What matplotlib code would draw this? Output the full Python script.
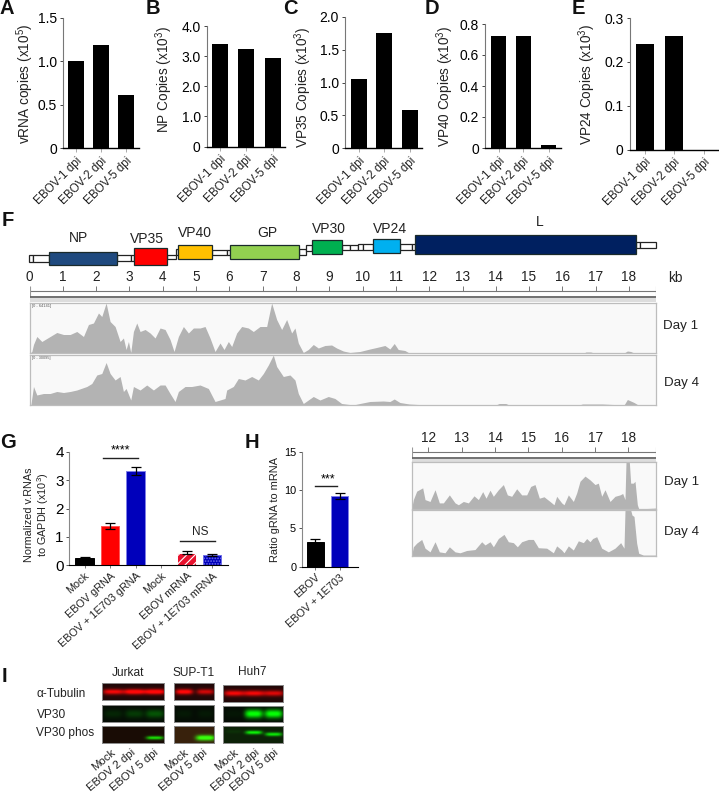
"""
Ebola panel figure: copy numbers (A-E), coverage tracks (F), gRNA bars (G, H), blots (I).
Layout is placed in pixels so panels line up with the 719x792 page.
"""
import numpy as np
import matplotlib
matplotlib.use("Agg")
import matplotlib.pyplot as plt
from matplotlib.patches import Rectangle

plt.rcParams["font.family"] = ["Liberation Sans", "DejaVu Sans"]
plt.rcParams["mathtext.fontset"] = "custom"
plt.rcParams["mathtext.rm"] = "Liberation Sans"
plt.rcParams["mathtext.default"] = "rm"
plt.rcParams["hatch.linewidth"] = 0.8

W, H = 719, 792

# panels A-E
DPI_LABELS = ["EBOV-1 dpi", "EBOV-2 dpi", "EBOV-5 dpi"]
VRNA = [1.0, 1.18, 0.61]
NP_COPIES = [3.4, 3.22, 2.93]
VP35_COPIES = [1.05, 1.75, 0.58]
VP40_COPIES = [0.72, 0.725, 0.02]
VP24_COPIES = [0.24, 0.26, 0.0]

# panel F gene map, kb
GENE_NAMES = ["NP", "VP35", "VP40", "GP", "VP30", "VP24", "L"]
GENE_START = [0.58, 3.15, 4.47, 6.02, 8.49, 10.31, 11.58]
GENE_END = [2.64, 4.14, 5.47, 8.10, 9.38, 11.12, 18.22]
GENE_COLS = ["#1f4a7f", "#ff0000", "#ffc000", "#92d050", "#00b050", "#00b0f0", "#002060"]
UTR_START = [-0.03, 0.12, 2.64, 3.04, 4.14, 4.39, 5.47, 5.92, 8.10, 8.29, 9.38, 9.62, 9.85, 10.02, 11.12, 11.47, 18.22, 18.34]
UTR_END = [0.12, 0.58, 3.04, 3.15, 4.39, 4.47, 5.92, 6.02, 8.29, 8.49, 9.62, 9.85, 10.02, 10.31, 11.47, 11.58, 18.34, 18.82]
KB_TICKS = list(range(1, 19))

# coverage, percent of track height
DAY1_KB = [0.02, 0.07, 0.12, 0.22, 0.37, 0.62, 0.82, 1.02, 1.22, 1.42, 1.62, 1.77, 1.92, 2.07, 2.17, 2.30, 2.42, 2.57,
           2.72, 2.82, 2.90, 2.97, 3.04, 3.12, 3.22, 3.32, 3.47, 3.62, 3.77, 3.92, 4.07, 4.22, 4.34, 4.47, 4.62, 4.77,
           4.92, 5.12, 5.27, 5.42, 5.57, 5.72, 5.84, 5.97, 6.07, 6.22, 6.37, 6.57, 6.72, 6.92, 7.12, 7.27, 7.42, 7.57,
           7.72, 7.87, 7.97, 8.07, 8.22, 8.37, 8.52, 8.67, 8.87, 9.07, 9.22, 9.42, 9.62, 9.92, 10.22, 10.42, 10.67,
           10.82, 10.95, 11.07, 11.27, 11.40, 16.65, 16.70, 16.85, 16.95, 17.85, 17.95, 18.05, 18.15, 18.80]
DAY1_COV = [0, 3, 17, 33, 23, 33, 41, 37, 37, 43, 33, 57, 60, 80, 73, 100, 63, 53,
            23, 30, 7, 23, 1, 43, 60, 43, 47, 40, 30, 50, 47, 27, 3, 33, 53, 40,
            50, 50, 53, 30, 3, 20, 7, 23, 13, 40, 53, 50, 43, 53, 53, 100, 67, 47,
            67, 40, 50, 20, 1, 7, 17, 10, 15, 16, 10, 4, 1, 3, 8, 11, 15,
            8, 19, 7, 5, 0, 0, 2, 2, 0, 0, 4, 3, 0, 0]
DAY4_KB = [0.04, 0.12, 0.22, 0.42, 0.62, 0.82, 1.02, 1.22, 1.42, 1.72, 1.87, 2.02, 2.17, 2.30, 2.42, 2.57, 2.72, 2.82,
           2.90, 3.04, 3.12, 3.32, 3.52, 3.72, 3.92, 4.07, 4.22, 4.37, 4.47, 4.67, 4.87, 5.12, 5.37, 5.57, 5.72, 5.87,
           5.92, 6.12, 6.27, 6.47, 6.67, 6.87, 7.02, 7.17, 7.32, 7.42, 7.62, 7.82, 7.97, 8.07, 8.22, 8.37, 8.52, 8.72,
           8.97, 9.17, 9.37, 9.72, 9.92, 10.22, 10.62, 10.82, 10.95, 11.12, 11.40, 11.67, 11.90, 14.00, 14.10, 14.30,
           14.40, 16.50, 16.60, 17.20, 17.85, 17.95, 18.15, 18.25, 18.80]
DAY4_COV = [0, 37, 20, 23, 23, 27, 25, 27, 30, 37, 43, 60, 63, 85, 63, 50, 57, 27,
            33, 10, 37, 30, 40, 30, 40, 40, 23, 7, 27, 37, 37, 40, 33, 7, 10, 13,
            30, 37, 53, 50, 57, 50, 63, 80, 100, 77, 57, 60, 50, 23, 3, 10, 17, 10,
            17, 13, 3, 0, 3, 7, 8, 7, 12, 5, 2, 1, 0, 0, 3, 3,
            0, 0, 2, 2, 0, 11, 5, 1, 0]

# zoomed 3' end tracks
ZOOM1_KB = [11.5, 11.55, 11.65, 11.83, 11.9, 12.05, 12.2, 12.33, 12.45, 12.63, 12.8, 12.9, 13.05, 13.2, 13.37, 13.5,
            13.63, 13.73, 13.85, 13.95, 14.1, 14.25, 14.37, 14.5, 14.65, 14.8, 14.95, 15.07, 15.2, 15.33, 15.47, 15.65,
            15.77, 15.85, 16.0, 16.07, 16.2, 16.35, 16.45, 16.55, 16.7, 16.85, 17.0, 17.1, 17.2, 17.3, 17.45, 17.6,
            17.75, 17.83, 17.9, 17.93, 18.03, 18.07, 18.15, 18.2, 18.27, 18.31, 18.55, 18.83]
ZOOM1_COV = [2, 20, 38, 45, 20, 16, 41, 13, 13, 30, 13, 9, 16, 13, 28, 20,
             37, 23, 40, 27, 41, 52, 30, 27, 43, 30, 30, 48, 52, 23, 26, 16,
             9, 27, 13, 9, 30, 16, 34, 59, 70, 62, 52, 55, 27, 41, 16, 27,
             30, 33, 20, 100, 100, 55, 55, 59, 9, 1, 1, 2]
ZOOM4_KB = [11.5, 11.55, 11.65, 11.8, 11.9, 12.05, 12.2, 12.33, 12.5, 12.63, 12.8, 12.95, 13.15, 13.4, 13.6, 13.7,
            13.85, 13.95, 14.1, 14.27, 14.4, 14.55, 14.67, 14.8, 15.0, 15.15, 15.3, 15.55, 15.75, 15.85, 16.0, 16.07,
            16.2, 16.35, 16.5, 16.65, 16.75, 16.85, 16.93, 17.05, 17.2, 17.4, 17.6, 17.77, 17.87, 17.9, 18.07, 18.11,
            18.17, 18.25, 18.31, 18.45, 18.83]
ZOOM4_COV = [2, 20, 28, 36, 17, 9, 31, 9, 7, 20, 9, 7, 12, 14, 31, 24,
             31, 20, 38, 47, 31, 29, 20, 31, 36, 36, 18, 17, 7, 22, 13, 7,
             22, 13, 33, 29, 38, 31, 38, 42, 17, 9, 17, 29, 17, 100, 100, 89,
             86, 28, 6, 2, 2]

# panel G, H
G_LABELS = ["Mock", "EBOV gRNA", "EBOV + 1E703 gRNA", "Mock", "EBOV mRNA", "EBOV + 1E703 mRNA"]
G_VALUES = [0.25, 1.38, 3.32, 0.0, 0.45, 0.37]
G_ERR = [0.03, 0.10, 0.13, 0.0, 0.05, 0.03]
H_LABELS = ["EBOV", "EBOV + 1E703"]
H_VALUES = [3.2, 9.2]
H_ERR = [0.4, 0.4]

# panel I band strength per lane
BLOT_CELLS = ["Jurkat", "SUP-T1", "Huh7"]
BLOT_ROWS = ["α-Tubulin", "VP30", "VP30 phos"]
LANES = [["Mock", "EBOV 2 dpi", "EBOV 5 dpi"], ["Mock", "EBOV 5 dpi"], ["Mock", "EBOV 2 dpi", "EBOV 5 dpi"]]
TUBULIN = [[0.85, 1.0, 1.0], [0.95, 0.7], [0.85, 0.85, 0.75]]
VP30 = [[0.10, 0.18, 0.28], [0.05, 0.05], [0.04, 1.0, 1.0]]
VP30_PHOS = [[0.0, 0.0, 0.85], [0.0, 1.0], [0.06, 0.85, 0.8]]


def px_axes(fig, x0, x1, ytop, ybot, **kw):
    return fig.add_axes([x0 / W, 1 - ybot / H, (x1 - x0) / W, (ybot - ytop) / H], **kw)


def copies_panel(fig, box, bars, values, ymax, yticks, yticklabels, ylabel, ylabel_x, ylabel_y):
    x0, x1, ytop, ybot = box
    ax = px_axes(fig, x0, x1, ytop, ybot)
    # bars given in pixels along the baseline
    centers = [(b[0] + b[1]) / 2 - x0 for b in bars]
    width = bars[0][1] - bars[0][0]
    ax.bar(centers, values, width=width, color="black")
    ax.set_xlim(0, x1 - x0)
    ax.set_ylim(0, ymax)
    ax.set_yticks(yticks)
    ax.set_yticklabels(yticklabels, fontsize=10)
    ax.set_xticks(centers)
    ax.set_xticklabels(DPI_LABELS, rotation=45, ha="right", rotation_mode="anchor", fontsize=8.5, color="#222222")
    ax.tick_params(axis="y", length=2.5, width=0.7, color="#444444", pad=2)
    ax.tick_params(axis="x", length=3, width=0.7, color="#aaaaaa", pad=2)
    ax.spines[["top", "right"]].set_visible(False)
    ax.spines["left"].set_color("#777777")
    ax.spines["bottom"].set_linewidth(1.0)
    ax.patch.set_alpha(0)
    ov.text(ylabel_x, ylabel_y, ylabel, rotation=90, ha="center", va="center", fontsize=9.8, color="#222222")
    return ax


def track(fig, box, xlim, kb, cov, tag=None):
    x0, x1, ytop, ybot = box
    ax = px_axes(fig, x0, x1, ytop, ybot, facecolor="#f9f9f9")
    ax.fill_between(kb, cov, 0, color="#b3b3b3", lw=0)
    ax.set_xlim(*xlim)
    ax.set_ylim(0, 100)
    ax.set_xticks([])
    ax.set_yticks([])
    for s in ax.spines.values():
        s.set_color("#bdbdbd")
        s.set_linewidth(0.9)
    if tag:
        ax.text(0.004, 0.93, tag, transform=ax.transAxes, fontsize=2.8, color="#555555", va="center")
    return ax


def ruler(fig, box, xlim, ticks):
    x0, x1, ytop, ybot = box
    ax = px_axes(fig, x0, x1, ytop, ybot)
    ax.set_xlim(*xlim)
    ax.set_ylim(ybot, ytop)
    ax.axis("off")
    # ruler line + ticks, dark rule under it, then the pale band
    ax.axhline(ytop + 5, color="#777777", lw=0.8)
    ax.vlines(ticks, ytop, ytop + 5, color="#777777", lw=0.7)
    ax.vlines([xlim[0], xlim[1]], ytop, ytop + 11, color="#999999", lw=0.8)
    ax.axhline(ytop + 10.5, color="#666666", lw=1.3)
    ax.add_patch(Rectangle((xlim[0], ytop + 11.5), xlim[1] - xlim[0], 4, color="#dddddd", lw=0))
    return ax


def blot(fig, box, centers, ypos, strength, channel, bg, band_w, band_h):
    x0, x1, ytop, ybot = box
    n_y, n_x = int(2 * (ybot - ytop)), int(2 * (x1 - x0))
    yy, xx = np.mgrid[0:n_y, 0:n_x]
    xx = xx / n_x
    yy = yy / n_y
    band = np.zeros((n_y, n_x))
    for c, y, s in zip(centers, ypos, strength):
        band += s * np.exp(-np.abs((xx - c) / band_w) ** 4 - ((yy - y) / band_h) ** 2)
    img = np.ones((n_y, n_x, 3)) * np.array(bg)
    img[:, :, channel] = np.clip(img[:, :, channel] + band, 0, 1)
    ax = px_axes(fig, x0, x1, ytop, ybot)
    ax.imshow(img, aspect="auto", interpolation="bilinear")
    ax.set_xticks([])
    ax.set_yticks([])
    for s in ax.spines.values():
        s.set_color("#8a8a8a")
        s.set_linewidth(0.7)
    return ax


fig = plt.figure(figsize=(W / 100, H / 100), dpi=100)
ov = fig.add_axes([0, 0, 1, 1], zorder=20)
ov.set_xlim(0, W)
ov.set_ylim(H, 0)
ov.axis("off")

# A-E
copies_panel(fig, (63, 139, 17.7, 148), [(68, 84), (93, 109), (118, 134)], VRNA, 1.5,
             [0, 0.5, 1.0, 1.5], ["0", "0.5", "1.0", "1.5"], "vRNA copies (x10$^{5}$)", 25, 84)
copies_panel(fig, (207, 285, 26, 146.5), [(212, 228), (238, 254), (265, 281)], NP_COPIES, 4.0,
             [0, 1, 2, 3, 4], ["0", "1.0", "2.0", "3.0", "4.0"], "NP Copies (x10$^{3}$)", 164, 79)
copies_panel(fig, (345, 422, 17, 148), [(351, 367), (376, 392), (402, 417)], VP35_COPIES, 2.0,
             [0, 0.5, 1.0, 1.5, 2.0], ["0", "0.5", "1.0", "1.5", "2.0"], "VP35 Copies (x10$^{3}$)", 303, 87)
copies_panel(fig, (485, 561, 24, 148), [(491, 506), (515.5, 531), (541, 556)], VP40_COPIES, 0.8,
             [0, 0.2, 0.4, 0.6, 0.8], ["0", "0.2", "0.4", "0.6", "0.8"], "VP40 Copies (x10$^{3}$)", 445, 86)
copies_panel(fig, (630, 719, 18, 149.5), [(636, 654), (665, 683), (695, 713)], VP24_COPIES, 0.3,
             [0, 0.1, 0.2, 0.3], ["0", "0.1", "0.2", "0.3"], "VP24 Copies (x10$^{3}$)", 587, 84)

# F gene map
gene_ax = px_axes(fig, 29.5, 655.7, 225, 270)
gene_ax.set_xlim(0, 18.8)
gene_ax.set_ylim(270, 225)
gene_ax.axis("off")
GENE_TOP = [251.7, 248.3, 245, 245, 240, 239, 235]
GENE_BOT = [265, 265, 258.7, 258.7, 254.3, 253.3, 253.7]
UTR_TOP = [254.5, 255, 255, 254.5, 254.5, 248.5, 250, 250, 248.5, 244.5, 244.5, 244.5, 243.5, 243.5, 243.5, 243.5, 241.7, 241.7]
UTR_BOT = [262, 261.7, 261, 261, 259.3, 255, 255, 255, 255, 251, 250, 250, 250, 250, 250, 250, 248.3, 248.3]
for s, e, t, b in zip(UTR_START, UTR_END, UTR_TOP, UTR_BOT):
    gene_ax.add_patch(Rectangle((s, t), e - s, b - t, fc="white", ec="#222222", lw=0.9, clip_on=False))
for s, e, t, b, c in zip(GENE_START, GENE_END, GENE_TOP, GENE_BOT, GENE_COLS):
    gene_ax.add_patch(Rectangle((s, t), e - s, b - t, fc=c, ec="#1a2a2a", lw=0.9, zorder=3))

GENE_LABEL_X = [78, 146.7, 195, 267, 329, 390, 540]
GENE_LABEL_Y = [238, 239, 233, 233, 229, 229, 222]
for name, x, y in zip(GENE_NAMES, GENE_LABEL_X, GENE_LABEL_Y):
    ov.text(x, y, name, ha="center", va="center", fontsize=10, color="#222222")

for kb in [0] + KB_TICKS:
    ov.text(29.5 + 33.3 * kb, 277, str(kb), ha="center", va="center", fontsize=9.8, color="#222222")
ov.text(675, 278, "kb", ha="center", va="center", fontsize=9.8, color="#222222")

ruler(fig, (29.5, 655.7, 286, 303), (0, 18.8), KB_TICKS)
track(fig, (29.5, 655.7, 303, 353), (0, 18.8), DAY1_KB, DAY1_COV, "[0 - 64141]")
track(fig, (29.5, 655.7, 355, 405), (0, 18.8), DAY4_KB, DAY4_COV, "[0 - 30095]")
ov.text(663, 326, "Day 1", va="center", fontsize=9.6, color="#222222")
ov.text(664, 383, "Day 4", va="center", fontsize=9.6, color="#222222")

# zoomed tracks beside H
ruler(fig, (411.7, 656, 447, 462), (11.5, 18.83), KB_TICKS[11:])
track(fig, (411.7, 656, 462, 509), (11.5, 18.83), ZOOM1_KB, ZOOM1_COV)
track(fig, (411.7, 656, 510, 556), (11.5, 18.83), ZOOM4_KB, ZOOM4_COV)
for kb in KB_TICKS[11:]:
    ov.text(411.7 + (kb - 11.5) * 33.4, 438, str(kb), ha="center", va="center", fontsize=9.8, color="#222222")
ov.text(664, 482, "Day 1", va="center", fontsize=9.6, color="#222222")
ov.text(664, 532, "Day 4", va="center", fontsize=9.6, color="#222222")

# G
g_ax = px_axes(fig, 69.3, 228, 451.7, 565.3)
g_x = np.arange(6)
g_cols = ["black", "#ff0000", "#0000bb", "black", "#e8112d", "#0000bb"]
g_edge = ["black", "#ff5555", "#7f7fe8", "black", "#ff6666", "#6f6fe8"]
g_hatch = [None, None, None, None, "////", "......"]
for x, v, e, c, ed, h in zip(g_x, G_VALUES, G_ERR, g_cols, g_edge, g_hatch):
    g_ax.bar(x, v, width=0.72, color=c, edgecolor="white" if h == "////" else ed, hatch=h, lw=0.7)
    if v > 0:
        g_ax.errorbar(x, v, yerr=e, color="black", capsize=3.5, lw=0.9, capthick=0.9)
g_ax.set_xlim(-0.6, 5.62)
g_ax.set_ylim(0, 4)
g_ax.set_yticks([0, 1, 2, 3, 4])
g_ax.set_yticklabels(["0", "1", "2", "3", "4"], fontsize=11)
g_ax.set_xticks(g_x)
g_ax.set_xticklabels(G_LABELS, rotation=42, ha="right", rotation_mode="anchor", fontsize=7.8, color="#222222")
g_ax.tick_params(axis="y", length=2.5, width=0.7, color="#555555", pad=1.5)
g_ax.tick_params(axis="x", length=2.5, width=0.7, color="#777777", pad=1.5)
g_ax.spines[["top", "right"]].set_visible(False)
g_ax.spines["left"].set_color("#888888")
g_ax.patch.set_alpha(0)
g_ax.plot([0.73, 2.1], [3.79, 3.79], color="#222222", lw=1, clip_on=False)
g_ax.text(1.42, 3.82, "****", ha="center", va="bottom", fontsize=9)
g_ax.plot([3.72, 5.1], [0.87, 0.87], color="#222222", lw=1)
g_ax.text(4.55, 0.95, "NS", ha="center", va="bottom", fontsize=8.6, color="#222222")
ov.text(37.5, 515, "Normalized v.RNAs\nto GAPDH (x10$^{3}$)", rotation=90, ha="center", va="center",
        fontsize=7.8, color="#222222", linespacing=1.05)

# H
h_ax = px_axes(fig, 301.7, 358, 451.7, 566.7)
h_cols = ["black", "#0000bb"]
h_edge = ["black", "#8080e8"]
h_ax.bar([0, 1], H_VALUES, width=0.7, color=h_cols, edgecolor=h_edge, lw=0.7)
h_ax.errorbar([0, 1], H_VALUES, yerr=H_ERR, fmt="none", ecolor="black", capsize=3.5, lw=0.9, capthick=0.9)
h_ax.set_xlim(-0.56, 1.76)
h_ax.set_ylim(0, 15)
h_ax.set_yticks([0, 5, 10, 15])
h_ax.set_yticklabels(["0", "5", "10", "15"], fontsize=7.8)
h_ax.set_xticks([0, 1])
h_ax.set_xticklabels(H_LABELS, rotation=42, ha="right", rotation_mode="anchor", fontsize=7.8, color="#222222")
h_ax.tick_params(axis="y", length=2.5, width=0.7, color="#555555", pad=1.5)
h_ax.tick_params(axis="x", length=2.5, width=0.7, color="#777777", pad=1.5)
h_ax.spines[["top", "right"]].set_visible(False)
h_ax.spines["left"].set_color("#888888")
h_ax.patch.set_alpha(0)
h_ax.plot([0.0, 0.9], [10.56, 10.56], color="#222222", lw=1)
h_ax.text(0.52, 10.6, "***", ha="center", va="bottom", fontsize=9)
ov.text(274.5, 510, "Ratio gRNA to mRNA", rotation=90, ha="center", va="center", fontsize=7.9, color="#222222")

# I blots
BLOT_X = [(102, 163.7), (174.3, 213.7), (222.7, 282.7)]
BLOT_CENTERS = [[0.18, 0.52, 0.85], [0.25, 0.78], [0.18, 0.51, 0.84]]
ROW_Y = [[(683.3, 700), (684.7, 702.3)], [(705, 721.7), (705.7, 722.3)], [(726, 742.7), (726.3, 743.3)]]
for i, (x0, x1) in enumerate(BLOT_X):
    k = 1 if i == 2 else 0
    n = len(BLOT_CENTERS[i])
    ytop, ybot = ROW_Y[0][k]
    blot(fig, (x0, x1, ytop, ybot), BLOT_CENTERS[i], [0.5] * n, TUBULIN[i], 0, (0.13, 0.03, 0.03),
         0.17 if i != 1 else 0.22, 0.16)
    ytop, ybot = ROW_Y[1][k]
    blot(fig, (x0, x1, ytop, ybot), BLOT_CENTERS[i], [0.5] * n, VP30[i], 1, (0.02, 0.05, 0.02),
         0.15 if i != 1 else 0.2, 0.25)
    ytop, ybot = ROW_Y[2][k]
    bg = [(0.10, 0.05, 0.02), (0.22, 0.13, 0.05), (0.05, 0.13, 0.03)][i]
    phos_y = [[0.68] * 3, [0.68] * 2, [0.35, 0.4, 0.5]][i]
    blot(fig, (x0, x1, ytop, ybot), BLOT_CENTERS[i], phos_y, VP30_PHOS[i], 1, bg,
         0.14 if i != 1 else 0.24, 0.1 if i != 1 else 0.16)

for name, x, y in zip(BLOT_CELLS, [128, 194, 252], [672.7, 673.5, 672]):
    ov.text(x, y, name, ha="center", va="center", fontsize=8.6, color="#222222")
for name, y in zip(BLOT_ROWS, [694, 715, 733]):
    ov.text(36.5, y, name, va="center", fontsize=8.6, color="#222222")
LANE_END_X = [[114, 134, 157], [187, 206], [237, 258, 277]]
for names, ends in zip(LANES, LANE_END_X):
    for name, x in zip(names, ends):
        ov.text(x, 751, name, rotation=40, ha="right", va="center", rotation_mode="anchor", fontsize=8.2, color="#222222")

# panel letters
LETTERS = ["A", "B", "C", "D", "E", "F", "G", "H", "I"]
LETTER_X = [0, 146, 283, 425, 572, 2, 0, 245, 2]
LETTER_Y = [8, 8, 8, 8, 8, 221, 442, 443, 676]
for s, x, y in zip(LETTERS, LETTER_X, LETTER_Y):
    ov.text(x, y, s, fontsize=14.5, fontweight="bold", ha="left", va="center", color="#111111")

fig.savefig("out.png", dpi=100)
